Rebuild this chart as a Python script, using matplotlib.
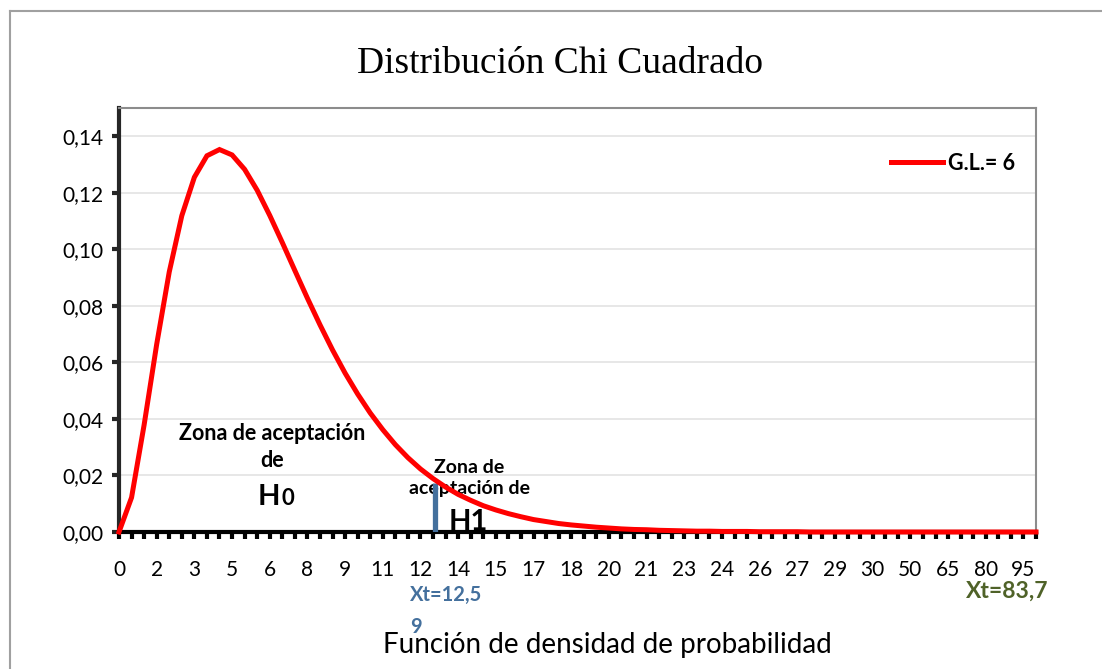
#!/usr/bin/python3
#
# plot.py
#
# Chi-square density (6 degrees of freedom) redrawn from an Excel chart

import matplotlib
matplotlib.use('Agg')
import matplotlib.pyplot as plt
from matplotlib.lines import Line2D


# Category values on the x axis (Excel category axis, not numeric)
categories = [0, 0.5, 1, 1.5, 2, 2.5, 3, 3.5, 4, 4.5,
              5, 5.5, 6, 6.5, 7, 7.5, 8, 8.5, 9, 9.5,
              10, 10.5, 11, 11.5, 12, 12.5, 13, 13.5, 14, 14.5,
              15, 15.5, 16, 16.5, 17, 17.5, 18, 18.5, 19, 19.5,
              20, 20.5, 21, 21.5, 22, 22.5, 23, 23.5, 24, 24.5,
              25, 25.5, 26, 26.5, 27, 27.5, 28, 28.5, 29, 29.5,
              30, 40, 45, 50, 55, 60, 65, 70, 75, 80,
              85, 90, 95, 100]

# Density
density = [0.0000, 0.0122, 0.0379, 0.0664, 0.0920, 0.1119, 0.1255, 0.1331, 0.1353, 0.1334,
           0.1283, 0.1209, 0.1120, 0.1024, 0.0925, 0.0827, 0.0733, 0.0644, 0.0562, 0.0488,
           0.0421, 0.0362, 0.0309, 0.0263, 0.0223, 0.0189, 0.0159, 0.0133, 0.0112, 0.0093,
           0.0078, 0.0065, 0.0054, 0.0044, 0.0037, 0.0030, 0.0025, 0.0021, 0.0017, 0.0014,
           0.0011, 0.0009, 0.0008, 0.0006, 0.0005, 0.0004, 0.0003, 0.0003, 0.0002, 0.0002,
           0.0002, 0.0001, 0.0001, 0.0001, 0.0001, 0.0000, 0.0000, 0.0000, 0.0000, 0.0000,
           0.0000, 0.0000, 0.0000, 0.0000, 0.0000, 0.0000, 0.0000, 0.0000, 0.0000, 0.0000,
           0.0000, 0.0000, 0.0000, 0.0000]

# Labels Excel shows on every third category
tick_labels = ['0', '2', '3', '5', '6', '8', '9', '11', '12', '14', '15', '17', '18',
               '20', '21', '23', '24', '26', '27', '29', '30', '50', '65', '80', '95']

y_ticks = [0.00, 0.02, 0.04, 0.06, 0.08, 0.10, 0.12, 0.14]

# Critical value and height of the blue marker
xt_value = 12.59
xt_height = 0.0175

sans = ['Lato', 'DejaVu Sans']


fig = plt.figure(figsize=(11.02, 6.69), dpi=100)
ax = fig.add_axes([119 / 1102, 1 - 532 / 669, 917 / 1102, 424 / 669])

idx = list(range(len(categories)))

# Main curve
ax.plot(idx, density, color='#ff0000', lw=3.6, solid_joinstyle='miter',
        label='G.L.= 6', zorder=5, clip_on=False)

# Critical value marker (position on the category scale)
xt_pos = xt_value / 0.5
ax.plot([xt_pos, xt_pos], [0, xt_height], color='#44709d', lw=3.8,
        solid_capstyle='butt', zorder=4)

# Axes styling
ax.set_xlim(0, len(categories) - 1)
ax.set_ylim(0, 0.15)
ax.set_yticks(y_ticks)
ax.set_yticklabels([('%.2f' % v).replace('.', ',') for v in y_ticks],
                   fontsize=15, family=sans)
ax.set_xticks(idx)
lab = [''] * len(idx)
for ii, t in enumerate(tick_labels):
    lab[ii * 3] = t
ax.set_xticklabels(lab, fontsize=15, family=sans)

ax.tick_params(axis='x', direction='out', length=5, width=3, color='black', pad=15)
ax.tick_params(axis='y', direction='out', length=5, width=3, color='#262626', pad=6)

ax.grid(axis='y', color='#e3e3e3', lw=1.2)
ax.set_axisbelow(True)

ax.spines['left'].set_color('#262626')
ax.spines['left'].set_linewidth(3)
ax.spines['bottom'].set_color('black')
ax.spines['bottom'].set_linewidth(3)
ax.spines['top'].set_color('#8c8c8c')
ax.spines['top'].set_linewidth(1.5)
ax.spines['right'].set_color('#8c8c8c')
ax.spines['right'].set_linewidth(1.5)

# Legend
leg = ax.legend(loc='center left', bbox_to_anchor=((882 - 119) / 917, (532 - 163) / 424),
                frameon=False, handlelength=2.45, handletextpad=0.2, borderaxespad=0,
                prop={'family': sans, 'weight': 'bold', 'size': 15.5})

# Annotations inside the plot
ax.text(12.2, 0.0301, 'Zona de aceptación\nde', ha='center', va='center',
        fontsize=15.5, fontweight='bold', family=sans, linespacing=1.35)
ax.text(12.85, 0.0094, 'H', ha='right', va='baseline',
        fontsize=21, fontweight='bold', family=sans)
ax.text(12.9, 0.0094, '0', ha='left', va='baseline',
        fontsize=16, fontweight='bold', family=sans)
ax.text(27.9, 0.0191, 'Zona de\naceptación de', ha='center', va='center',
        fontsize=14, fontweight='bold', family=sans, linespacing=1.3)
ax.text(27.8, 0.0006, 'H1', ha='center', va='baseline',
        fontsize=21, fontweight='bold', family=sans, zorder=6)

# Title and axis label
fig.text(560 / 1102, 1 - 64 / 669, 'Distribución Chi Cuadrado', ha='center', va='center',
         fontsize=27, family=['Liberation Serif', 'DejaVu Serif'])
fig.text(607 / 1102, 1 - 645 / 669, 'Función de densidad de probabilidad', ha='center',
         va='center', fontsize=20, family=sans)

# Critical value labels below the axis
fig.text(410 / 1102, 1 - 585 / 669, 'Xt=12,5\n9', ha='left', va='top',
         fontsize=14.5, fontweight='bold', color='#44709d', family=sans, linespacing=1.75)
fig.text(1048 / 1102, 1 - 591 / 669, 'Xt=83,7', ha='right', va='center',
         fontsize=16.5, fontweight='bold', color='#4f6228', family=sans)

# Outer chart border
fig.add_artist(Line2D([9.5 / 1102, 9.5 / 1102], [0, 1 - 11 / 669],
                      transform=fig.transFigure, color='#a0a0a0', lw=1.5))
fig.add_artist(Line2D([9.5 / 1102, 1], [1 - 11 / 669, 1 - 11 / 669],
                      transform=fig.transFigure, color='#a0a0a0', lw=1.5))

fig.savefig('out.png', dpi=100)
